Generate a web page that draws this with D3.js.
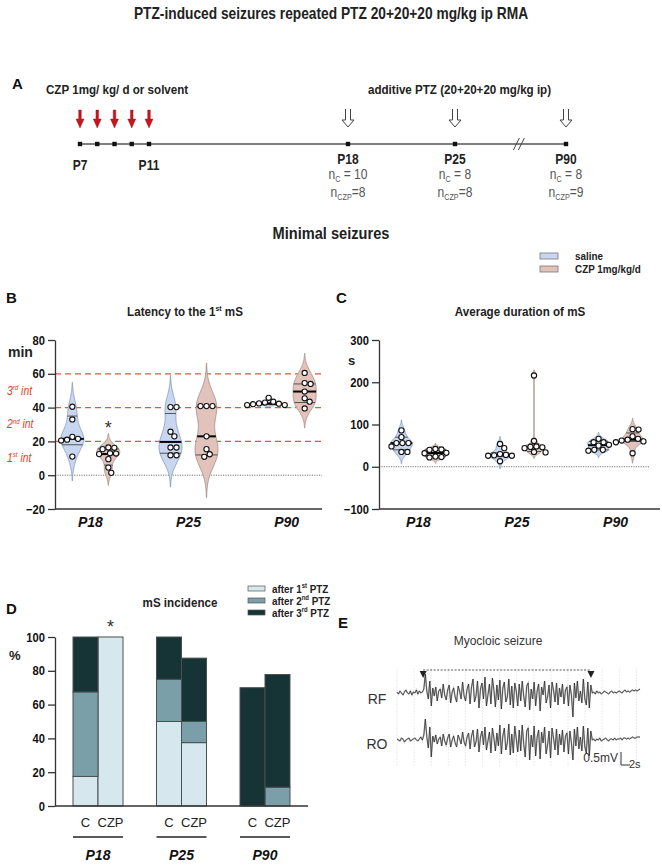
<!DOCTYPE html>
<html><head><meta charset="utf-8">
<script src="https://cdn.jsdelivr.net/npm/d3@7"></script>
<style>body{margin:0;background:#fff}svg{display:block}</style>
</head><body>
<svg id="chart" width="662" height="865"></svg>
<script>
// ================= DATA =================
const mainTitle = "PTZ-induced seizures repeated PTZ 20+20+20 mg/kg ip RMA";
const treatmentDays = [7, 8, 9, 10, 11];
const treatmentLabels = ["P7", "", "", "", "P11"];
const testDays = [18, 25, 90];
const groups = ["P18", "P25", "P90"];
const nControl = ["10", "8", "8"];
const nCZP = ["8", "8", "9"];
const seriesNames = ["saline", "CZP 1mg/kg/d"];

// B: latency to first mS (min)
const latencySaline = [
  [40.5, 33, 22.7, 21.5, 21, 20.5, 11],
  [40.3, 40.3, 25.7, 23, 16.4, 16.4, 11.8, 11.8],
  [45.8, 43.5, 43, 42.5, 42.3, 42, 41.5, 41.5]
];
const latencyCZP = [
  [16.4, 16.2, 15.4, 13, 12.8, 12.5, 9.5, 4.5, 1.4],
  [40.9, 40.9, 40.9, 23, 15.4, 12.4, 10.9],
  [60.5, 54.5, 54, 49.5, 45.5, 43.5, 39.5]
];
// [Q1, median, Q3]
const latencySalineQ = [[18, 21.5, 35], [13, 19.7, 36.5], [41.8, 42.3, 43]];
const latencyCZPQ = [[6, 12.5, 15.5], [12, 23, 40.5], [43, 49.5, 54]];
const latencyTicks = [-20, 0, 20, 40, 60, 80];
const intervalLines = [20, 40, 60];
const intervalLabels = [["1", "st"], ["2", "nd"], ["3", "rd"]];
const intervalLabelValues = [10, 30, 50];

// C: average duration of mS (s)
const durationSaline = [
  [86, 70, 56, 56, 56, 48, 35, 35],
  [54, 44, 30, 28, 27, 26, 26, 13],
  [66, 58, 58, 52, 50, 40, 40, 38]
];
const durationCZP = [
  [42, 41, 40, 33, 32, 24, 23, 22],
  [216, 61, 48, 47, 46, 44, 35, 34],
  [89, 88, 72, 66, 64, 62, 60, 58, 32]
];
const durationSalineQ = [[40, 56, 70], [24, 27.5, 33], [40, 51, 60]];
const durationCZPQ = [[24, 32.5, 40], [36, 46.5, 54], [60, 64, 80]];
const durationTicks = [-100, 0, 100, 200, 300];

// D: mS incidence (%)
const barLabels = ["C", "CZP"];
const incidenceAfter1 = [17.5, 100, 50, 37.5, 0, 0];
const incidenceAfter2 = [50, 0, 25, 12.5, 0, 11.1];
const incidenceAfter3 = [32.5, 0, 25, 37.5, 70, 66.7];
const incidenceKeys = ["after1", "after2", "after3"];
const incidenceLegend = [["after 1", "st", " PTZ"], ["after 2", "nd", " PTZ"], ["after 3", "rd", " PTZ"]];
const incidenceTicks = [0, 20, 40, 60, 80, 100];

// E: EEG example (amplitude units, 26 units = 1 mV; duration in s)
const eegDuration = 54;
const seizureOnset = 5.8, seizureEnd = 43.1;
const unitsPerMV = 26;
const scaleBarMV = 0.5, scaleBarS = 2;
const traceRF = [1,-1,2,0,-2,1,3,0,-1,2,-2,1,0,3,-1,2,0,1,
  4,19,2,-6,12,-13,5,
  -3,6,-8,2,4,-5,9,-2,-7,3,8,-10,1,5,-4,-9,7,2,-6,11,-3,-8,4,9,-11,
  6,14,-9,-3,12,-15,4,10,-6,16,-13,-2,9,-11,15,3,-14,8,-7,13,-16,5,11,-9,-4,14,-12,7,-15,10,2,-13,9,
  -8,12,-3,-14,7,10,-17,4,-6,11,-13,2,9,-18,6,-2,12,-10,-4,8,-15,11,3,-9,10,-12,5,
  -4,9,-11,3,6,-13,8,-2,-24,10,-5,12,-8,2,-10,14,-6,-12,11,-15,8,
  0,1,-1,2,0,1,-1,0,2,1,0,-1,1,2,0,1,0,1,2,1,0,2,3,1,2,1,2,3,2,3,2,3,4];
const traceRO = [1,0,-1,2,1,-2,0,1,2,-1,0,1,2,0,-1,1,3,0,
  5,21,3,-8,13,-17,4,
  -2,5,-4,1,3,-6,6,-1,-5,2,6,-7,0,4,-3,-7,5,1,-4,8,-2,-6,3,7,-9,
  4,10,-7,-2,11,-12,3,9,-5,13,-10,-1,8,-13,12,2,-11,7,-6,15,-14,4,12,-10,-3,16,-15,6,-13,14,1,-12,10,
  -11,15,-4,-17,9,12,-20,5,-7,14,-16,3,10,-19,8,-3,13,-14,-5,9,-18,12,2,-10,11,-15,6,
  -5,10,-12,4,7,-14,9,-3,-20,11,-6,13,-9,3,-11,14,-7,-13,12,-16,9,
  0,1,-1,1,0,2,-1,0,1,2,0,-1,1,1,0,2,0,1,1,2,0,2,2,1,2,1,2,3,2,2,3,3,3];

// ================= STYLE =================
const FN = "'Liberation Sans Narrow','Arial Narrow','Liberation Sans',Arial,sans-serif";
const FA = "'Liberation Sans',Arial,sans-serif";
const NARROW = 0.86;
const salineFill = "#c8d7ef", salineStroke = "#8a9bbd";
const czpFill = "#e2c3bc", czpStroke = "#a58f8a";
const redDash = "#e8553a";
const incColors = {after1: "#d6e7ee", after2: "#7b9fa8", after3: "#163335"};

const svg = d3.select("#chart");

function narrow(t, x) {
  t.attr("transform", `translate(${x},0) scale(${NARROW},1) translate(${-x},0)`);
}
function rich(g, x, y, parts, attrs) {
  const fs = attrs["font-size"];
  const t = g.append("text").attr("x", x).attr("y", y);
  for (const k in attrs) t.attr(k, attrs[k]);
  if (attrs["font-family"] === FN) narrow(t, x);
  let cur = 0;
  parts.forEach(p => {
    const s = typeof p === "string" ? p : p[0];
    const kind = typeof p === "string" ? null : p[1];
    const off = kind === "sup" ? -fs * 0.4 : kind === "sub" ? fs * 0.22 : 0;
    const ts = t.append("tspan").attr("dy", off - cur).text(s);
    if (kind) ts.attr("font-size", fs * 0.6);
    cur = off;
  });
  return t;
}
function label(x, y, s, attrs) {
  const t = svg.append("text").attr("x", x).attr("y", y).text(s);
  for (const k in attrs) t.attr(k, attrs[k]);
  if (attrs["font-family"] === FN) narrow(t, x);
  return t;
}
function yAxis(scale, x, ticks) {
  const ax = svg.append("g").attr("transform", `translate(${x},0)`)
    .call(d3.axisLeft(scale).tickValues(ticks).tickSize(7).tickSizeOuter(0).tickPadding(3));
  ax.select(".domain").attr("stroke", "#333").attr("stroke-width", 1.3);
  ax.selectAll(".tick line").attr("stroke", "#333").attr("stroke-width", 1.3);
  ax.selectAll(".tick text").attr("font-family", FN).attr("font-weight", "bold")
    .attr("font-size", 13).attr("fill", "#111")
    .attr("transform", `translate(-10,0) scale(${NARROW},1) translate(10,0)`);
  return ax;
}

// ================= TITLE =================
label(331, 19, mainTitle, {"text-anchor": "middle", "font-family": FN, "font-weight": "bold", "font-size": 16, fill: "#222"});

// ================= PANEL A =================
const xT = d3.scaleLinear().domain([7, 11, 18, 25, 90]).range([80, 149, 348, 455, 566]);
const lineY = 144;
label(12, 89, "A", {"font-family": FA, "font-weight": "bold", "font-size": 15, fill: "#111"});
label(46, 94, "CZP 1mg/ kg/ d or solvent", {"font-family": FN, "font-weight": "bold", "font-size": 13.5, fill: "#222"});
label(368, 94, "additive PTZ (20+20+20 mg/kg ip)", {"font-family": FN, "font-weight": "bold", "font-size": 13.5, fill: "#222"});
svg.append("line").attr("x1", xT(7)).attr("x2", xT(90)).attr("y1", lineY).attr("y2", lineY)
  .attr("stroke", "#555").attr("stroke-width", 1.6);
const brk = xT(25) + 0.58 * (xT(90) - xT(25));
[-3, 2].forEach(o => svg.append("line").attr("x1", brk + o - 3).attr("y1", lineY + 6).attr("x2", brk + o + 3).attr("y2", lineY - 6)
  .attr("stroke", "#444").attr("stroke-width", 1));
[...treatmentDays, ...testDays].forEach(d => svg.append("rect").attr("x", xT(d) - 2.2).attr("y", lineY - 2.2)
  .attr("width", 4.4).attr("height", 4.4).attr("fill", "#111"));
treatmentDays.forEach(d => {
  const cx = xT(d);
  svg.append("path").attr("d", `M${cx - 1.3},110 V119 H${cx - 4} L${cx},128 L${cx + 4},119 H${cx + 1.3} V110 Z`)
    .attr("fill", "#c8161d").attr("stroke", "#8e1014").attr("stroke-width", 0.4);
});
treatmentDays.forEach((d, i) => {
  if (treatmentLabels[i]) label(xT(d), 170, treatmentLabels[i], {"text-anchor": "middle", "font-family": FN, "font-weight": "bold", "font-size": 14, fill: "#222"});
});
testDays.forEach((d, i) => {
  const cx = xT(d);
  svg.append("path").attr("d", `M${cx - 2.5},109 V120 H${cx - 6} L${cx},127 L${cx + 6},120 H${cx + 2.5} V109`)
    .attr("fill", "none").attr("stroke", "#444").attr("stroke-width", 1);
  label(cx, 164, groups[i], {"text-anchor": "middle", "font-family": FN, "font-weight": "bold", "font-size": 14, fill: "#222"});
  rich(svg, cx, 179, ["n", ["C", "sub"], " = " + nControl[i]], {"text-anchor": "middle", "font-family": FN, "font-size": 14, fill: "#555"});
  rich(svg, cx, 197, ["n", ["CZP", "sub"], "=" + nCZP[i]], {"text-anchor": "middle", "font-family": FN, "font-size": 14, fill: "#555"});
});

// ================= Minimal seizures + legend =================
label(331, 239, "Minimal seizures", {"text-anchor": "middle", "font-family": FN, "font-weight": "bold", "font-size": 17, fill: "#222"});
[[salineFill, salineStroke], [czpFill, czpStroke]].forEach((c, i) => {
  svg.append("rect").attr("x", 540).attr("y", 253 + i * 13).attr("width", 18).attr("height", 6)
    .attr("fill", c[0]).attr("stroke", "#777").attr("stroke-width", 0.8);
  label(575, 260 + i * 13, seriesNames[i], {"font-family": FN, "font-weight": "bold", "font-size": 11.5, fill: "#222"});
});

// ================= violin helpers =================
function violinDensity(values) {
  const n = values.length;
  const sorted = values.slice().sort(d3.ascending);
  // values far away from the rest (gross outliers) are left out of the spread estimate
  const core = values.filter((v, i) => {
    const others = values.filter((_, j) => j !== i);
    const sdO = d3.deviation(others) || 1;
    return Math.abs(v - d3.median(others)) <= 4 * sdO;
  });
  const sd = d3.deviation(core) || 1;
  const h = 0.9 * sd * Math.pow(n, -0.2);
  const lo = sorted[0] - 4 * h, hi = sorted[n - 1] + 4 * h;
  const grid = d3.range(lo, hi + 1e-9, (hi - lo) / 220);
  const k = u => Math.exp(-0.5 * u * u) / Math.sqrt(2 * Math.PI);
  let dens = grid.map(v => [v, d3.sum(values, xi => k((v - xi) / h)) / (n * h)]);
  const mx = d3.max(dens, d => d[1]);
  const thr = mx * 0.01;
  let a = 0, b = dens.length - 1;
  while (a < b && dens[a][1] < thr) a++;
  while (b > a && dens[b][1] < thr) b--;
  dens = dens.slice(a, b + 1);
  return {dens, mx, h};
}
function densAt(dens, v) {
  if (v <= dens[0][0] || v >= dens[dens.length - 1][0]) return 0;
  const i = d3.bisector(d => d[0]).left(dens, v);
  const d0 = dens[i - 1], d1 = dens[i];
  const t = (v - d0[0]) / (d1[0] - d0[0]);
  return d0[1] + t * (d1[1] - d0[1]);
}
function swarmOffsets(values, y, md) {
  const idx = values.map((v, i) => i).sort((a, b) => values[b] - values[a]);
  const placed = [];
  const off = new Array(values.length);
  idx.forEach(i => {
    const py = y(values[i]);
    const iv = placed.filter(p => Math.abs(p[1] - py) < md).map(p => {
      const w = Math.sqrt(md * md - (p[1] - py) ** 2);
      return [p[0] - w, p[0] + w];
    });
    const cands = [0];
    iv.forEach(r => { cands.push(r[0], r[1]); });
    const ok = c => iv.every(r => c <= r[0] + 1e-6 || c >= r[1] - 1e-6);
    const best = cands.filter(ok).sort((a, b) => Math.abs(a) - Math.abs(b) || b - a)[0];
    off[i] = best; placed.push([best, py]);
  });
  return off;
}
function drawViolin(values, q, cx, y, fill, stroke, halfW) {
  const {dens, mx} = violinDensity(values);
  const w = d3.scaleLinear().domain([0, mx]).range([0, halfW]);
  const area = d3.area().curve(d3.curveBasis)
    .y(d => y(d[0])).x0(d => cx - w(d[1])).x1(d => cx + w(d[1]));
  svg.append("path").datum(dens).attr("d", area).attr("fill", fill).attr("stroke", stroke).attr("stroke-width", 0.9);
  q.forEach((v, j) => {
    const hw = Math.max(w(densAt(dens, v)), 1.5);
    svg.append("line").attr("x1", cx - hw).attr("x2", cx + hw).attr("y1", y(v)).attr("y2", y(v))
      .attr("stroke", j === 1 ? "#000" : "#333").attr("stroke-width", j === 1 ? 2 : 0.8);
  });
  const off = swarmOffsets(values, y, 6);
  svg.append("g").selectAll("circle").data(values).join("circle")
    .attr("cx", (d, i) => cx + off[i]).attr("cy", d => y(d)).attr("r", 2.6)
    .attr("fill", "#fff").attr("stroke", "#111").attr("stroke-width", 1.1);
}

// ================= PANEL B =================
const yB = d3.scaleLinear().domain([-20, 80]).range([509, 340]);
const xB = d3.scalePoint().domain(groups).range([55, 322]).padding(0.36);
const subB = d3.scalePoint().domain(seriesNames).range([-18, 18]);
label(6, 303, "B", {"font-family": FA, "font-weight": "bold", "font-size": 15, fill: "#111"});
rich(svg, 185, 316, ["Latency to the 1", ["st", "sup"], " mS"], {"text-anchor": "middle", "font-family": FN, "font-weight": "bold", "font-size": 13.5, fill: "#222"});
label(8, 357, "min", {"font-family": FA, "font-weight": "bold", "font-size": 14, fill: "#222"});
intervalLines.forEach(v => svg.append("line").attr("x1", 55).attr("x2", 322).attr("y1", yB(v)).attr("y2", yB(v))
  .attr("stroke", redDash).attr("stroke-width", 1.2).attr("stroke-dasharray", "6,4"));
svg.append("line").attr("x1", 55).attr("x2", 322).attr("y1", yB(0)).attr("y2", yB(0))
  .attr("stroke", "#777").attr("stroke-width", 1).attr("stroke-dasharray", "1.2,1.2");
intervalLabels.forEach((p, i) => rich(svg, 7, yB(intervalLabelValues[i]) + 4, [p[0], [p[1], "sup"], " int"],
  {"font-family": FN, "font-style": "italic", "font-size": 12, fill: "#e0401f"}));
groups.forEach((g, i) => {
  drawViolin(latencySaline[i], latencySalineQ[i], xB(g) + subB(seriesNames[0]), yB, salineFill, salineStroke, 11.5);
  drawViolin(latencyCZP[i], latencyCZPQ[i], xB(g) + subB(seriesNames[1]), yB, czpFill, czpStroke, 11.5);
  label(xB(g), 527, g, {"text-anchor": "middle", "font-family": FA, "font-weight": "bold", "font-style": "italic", "font-size": 14, fill: "#111"});
});
yAxis(yB, 55, latencyTicks);
svg.append("line").attr("x1", 55).attr("x2", 322).attr("y1", yB(-20)).attr("y2", yB(-20)).attr("stroke", "#333").attr("stroke-width", 1.3);
label(xB("P18") + subB(seriesNames[1]), 434, "*", {"text-anchor": "middle", "font-family": FA, "font-size": 18, fill: "#333"});

// ================= PANEL C =================
const yC = d3.scaleLinear().domain([-100, 300]).range([509, 340]);
const xC = d3.scalePoint().domain(groups).range([379, 655]).padding(0.4);
const subC = d3.scalePoint().domain(seriesNames).range([-17, 17]);
label(336, 303, "C", {"font-family": FA, "font-weight": "bold", "font-size": 15, fill: "#111"});
label(520, 316, "Average duration of mS", {"text-anchor": "middle", "font-family": FN, "font-weight": "bold", "font-size": 13.5, fill: "#222"});
label(348, 365, "s", {"font-family": FA, "font-weight": "bold", "font-size": 13, fill: "#222"});
svg.append("line").attr("x1", 379).attr("x2", 650).attr("y1", yC(0)).attr("y2", yC(0))
  .attr("stroke", "#777").attr("stroke-width", 1).attr("stroke-dasharray", "1.2,1.2");
groups.forEach((g, i) => {
  drawViolin(durationSaline[i], durationSalineQ[i], xC(g) + subC(seriesNames[0]), yC, salineFill, salineStroke, 11);
  drawViolin(durationCZP[i], durationCZPQ[i], xC(g) + subC(seriesNames[1]), yC, czpFill, czpStroke, 11);
  label(xC(g), 527, g, {"text-anchor": "middle", "font-family": FA, "font-weight": "bold", "font-style": "italic", "font-size": 14, fill: "#111"});
});
yAxis(yC, 379, durationTicks);
svg.append("line").attr("x1", 379).attr("x2", 660).attr("y1", yC(-100)).attr("y2", yC(-100)).attr("stroke", "#333").attr("stroke-width", 1.3);

// ================= PANEL D =================
const yD = d3.scaleLinear().domain([0, 100]).range([806, 637]);
const xD = d3.scalePoint().domain(groups).range([55, 308]).padding(0.515);
const subD = d3.scaleBand().domain(barLabels).range([-25, 25]);
label(6, 614, "D", {"font-family": FA, "font-weight": "bold", "font-size": 15, fill: "#111"});
label(180, 607, "mS incidence", {"text-anchor": "middle", "font-family": FN, "font-weight": "bold", "font-size": 13.5, fill: "#222"});
incidenceLegend.forEach((p, i) => {
  svg.append("rect").attr("x", 248).attr("y", 586 + i * 12).attr("width", 17).attr("height", 5)
    .attr("fill", incColors[incidenceKeys[i]]).attr("stroke", "#555").attr("stroke-width", 0.7);
  rich(svg, 272, 593 + i * 12, [p[0], [p[1], "sup"], p[2]], {"font-family": FN, "font-weight": "bold", "font-size": 11.5, fill: "#222"});
});
label(9, 660, "%", {"font-family": FA, "font-weight": "bold", "font-size": 13, fill: "#222"});
const incRows = [];
groups.forEach((g, gi) => barLabels.forEach((b, bi) => {
  const k = gi * barLabels.length + bi;
  incRows.push({group: g, bar: b, after1: incidenceAfter1[k], after2: incidenceAfter2[k], after3: incidenceAfter3[k]});
}));
const stacked = d3.stack().keys(incidenceKeys)(incRows);
stacked.forEach(layer => {
  svg.append("g").selectAll("rect").data(layer.filter(d => d[1] - d[0] > 0)).join("rect")
    .attr("x", d => xD(d.data.group) + subD(d.data.bar))
    .attr("width", subD.bandwidth())
    .attr("y", d => yD(d[1])).attr("height", d => yD(d[0]) - yD(d[1]))
    .attr("fill", incColors[layer.key]).attr("stroke", "#4a4f52").attr("stroke-width", 1);
});
yAxis(yD, 55, incidenceTicks);
svg.append("line").attr("x1", 55).attr("x2", 308).attr("y1", yD(0)).attr("y2", yD(0)).attr("stroke", "#333").attr("stroke-width", 1.3);
groups.forEach(g => {
  barLabels.forEach(b => label(xD(g) + subD(b) + subD.bandwidth() / 2, 827, b,
    {"text-anchor": "middle", "font-family": FA, "font-size": 13, fill: "#222"}));
  svg.append("line").attr("x1", xD(g) - 25).attr("x2", xD(g) + 25).attr("y1", 837).attr("y2", 837)
    .attr("stroke", "#222").attr("stroke-width", 1.5);
  label(xD(g), 860, g, {"text-anchor": "middle", "font-family": FA, "font-weight": "bold", "font-style": "italic", "font-size": 14, fill: "#111"});
});
label(xD("P18") + subD("CZP") + subD.bandwidth() / 2, 633, "*", {"text-anchor": "middle", "font-family": FA, "font-size": 18, fill: "#333"});

// ================= PANEL E =================
const xE = d3.scaleLinear().domain([0, eegDuration]).range([397, 640]);
const yRF = d3.scaleLinear().domain([-30, 30]).range([693 + 30, 693 - 30]);
const yRO = d3.scaleLinear().domain([-30, 30]).range([740 + 30, 740 - 30]);
label(338, 628, "E", {"font-family": FA, "font-weight": "bold", "font-size": 15, fill: "#111"});
label(498, 645, "Myocloic seizure", {"text-anchor": "middle", "font-family": FA, "font-size": 12, fill: "#333"});
d3.range(0, eegDuration + 0.1, 3.8).forEach(t => svg.append("line").attr("x1", xE(t)).attr("x2", xE(t))
  .attr("y1", 668).attr("y2", 766).attr("stroke", "#e6e6e6").attr("stroke-width", 0.8).attr("stroke-dasharray", "2,1"));
svg.append("line").attr("x1", xE(seizureOnset)).attr("x2", xE(seizureEnd)).attr("y1", 670).attr("y2", 670)
  .attr("stroke", "#444").attr("stroke-width", 0.9).attr("stroke-dasharray", "2,1.5");
[seizureOnset, seizureEnd].forEach(t => svg.append("path")
  .attr("d", `M${xE(t) - 3.5},671 L${xE(t) + 3.5},671 L${xE(t)},678 Z`).attr("fill", "#222"));
function drawTrace(data, y) {
  const dt = eegDuration / (data.length - 1);
  const line = d3.line().x((d, i) => xE(i * dt)).y(d => y(d));
  svg.append("path").datum(data).attr("d", line)
    .attr("fill", "none").attr("stroke", "#9a9a9a").attr("stroke-width", 1.6).attr("opacity", 0.6);
  svg.append("path").datum(data).attr("d", line)
    .attr("fill", "none").attr("stroke", "#222").attr("stroke-width", 0.7);
}
drawTrace(traceRF, yRF);
drawTrace(traceRO, yRO);
label(377, 704, "RF", {"text-anchor": "middle", "font-family": FA, "font-size": 14, fill: "#333"});
label(377, 749, "RO", {"text-anchor": "middle", "font-family": FA, "font-size": 14, fill: "#333"});
const sbX = 621, sbY = 765;
const sbH = yRO(0) - yRO(scaleBarMV * unitsPerMV);
const sbW = xE(scaleBarS) - xE(0);
svg.append("path").attr("d", `M${sbX},${sbY - sbH} V${sbY} H${sbX + sbW}`)
  .attr("fill", "none").attr("stroke", "#333").attr("stroke-width", 1);
label(sbX - 3, 762, "0.5mV", {"text-anchor": "end", "font-family": FA, "font-size": 12, fill: "#333"});
label(sbX + sbW - 1, 768, "2s", {"font-family": FA, "font-size": 11, fill: "#333"});
</script>
</body></html>
